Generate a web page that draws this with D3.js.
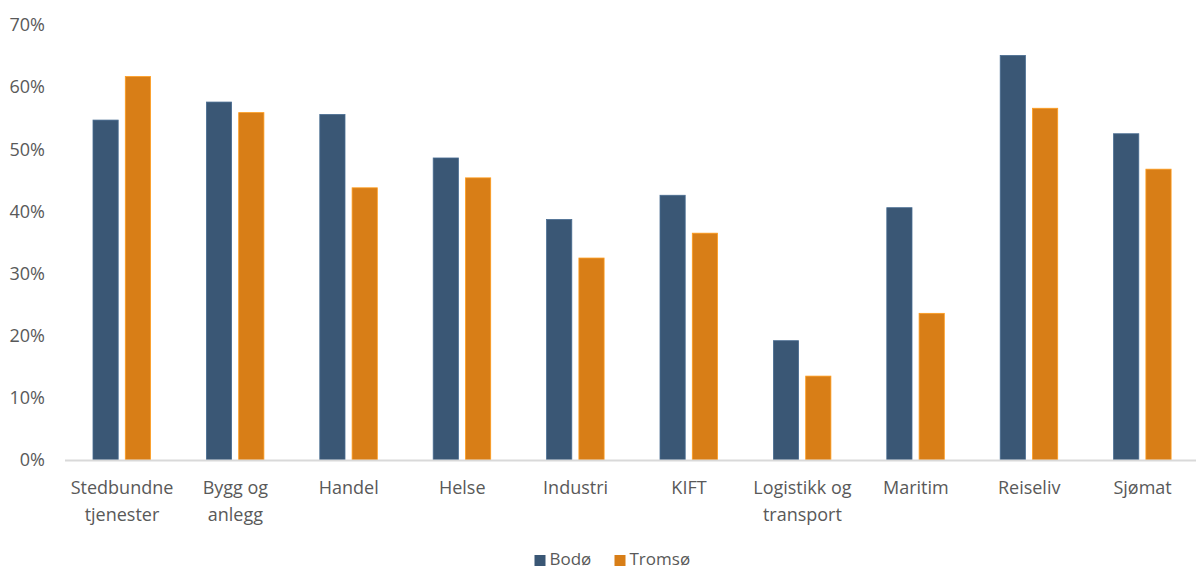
<!DOCTYPE html>
<html><head><meta charset="utf-8">
<script src="https://cdn.jsdelivr.net/npm/d3@7"></script>
<style>body{margin:0;background:#fff}svg{display:block}text{font-family:"Open Sans",sans-serif;fill:#595959}</style>
</head><body><svg id="c" width="1196" height="570"></svg>
<script>
const categories = [["Stedbundne","tjenester"],["Bygg og","anlegg"],["Handel"],["Helse"],["Industri"],["KIFT"],["Logistikk og","transport"],["Maritim"],["Reiseliv"],["Sjømat"]];
const seriesNames = ["Bodø","Tromsø"];
const bodo = [54.7,57.6,55.6,48.6,38.7,42.6,19.2,40.6,65.1,52.5];
const tromso = [61.7,55.9,43.8,45.4,32.5,36.5,13.5,23.6,56.6,46.8];
const yTicks = [0,10,20,30,40,50,60,70];
const colors = ["#3A5775","#D87E17"];

const svg = d3.select("#c");
const x = d3.scaleBand().domain(d3.range(categories.length)).range([65.3,1199.3]).paddingInner(0).paddingOuter(0);
const y = d3.scaleLinear().domain([0,70]).range([460,25]);
const inner = d3.scaleBand().domain([0,1]).range([27.7,27.7+57.5]).paddingInner(0.22);

// y labels
svg.append("g").selectAll("text").data(yTicks).join("text")
  .attr("x",45).attr("y",d=>y(d)).attr("dy","0.35em").attr("text-anchor","end")
  .attr("font-size",18).text(d=>d+"%");

const series=[bodo,tromso];
series.forEach((vals,si)=>{
  svg.append("g").selectAll("rect").data(vals).join("rect")
    .attr("x",(d,i)=>x(i)+inner(si)).attr("width",inner.bandwidth())
    .attr("y",d=>y(d)).attr("height",d=>y(0)-y(d))
    .attr("fill",colors[si]).attr("stroke",d3.color(colors[si]).brighter(0.6)).attr("stroke-width",0.8);
});

// axis line
svg.append("line").attr("x1",65).attr("x2",1196).attr("y1",y(0)+0.5).attr("y2",y(0)+0.5)
  .attr("stroke","#D9D9D9").attr("stroke-width",2);

// category labels
const cg = svg.append("g").selectAll("text").data(categories).join("text")
  .attr("x",(d,i)=>x(i)+x.bandwidth()/2).attr("y",494).attr("text-anchor","middle").attr("font-size",18);
cg.selectAll("tspan").data(d=>d).join("tspan")
  .attr("x",function(){return this.parentNode.getAttribute("x");})
  .attr("dy",(d,j)=>j===0?0:26.5).text(d=>d);

// legend
const lg = svg.append("g");
const legX=[534.5,614.5];
seriesNames.forEach((n,i)=>{
  lg.append("rect").attr("x",legX[i]).attr("y",555).attr("width",11).attr("height",11).attr("fill",colors[i]);
  lg.append("text").attr("x",legX[i]+15).attr("y",565).attr("font-size",17).text(n);
});
</script></body></html>
